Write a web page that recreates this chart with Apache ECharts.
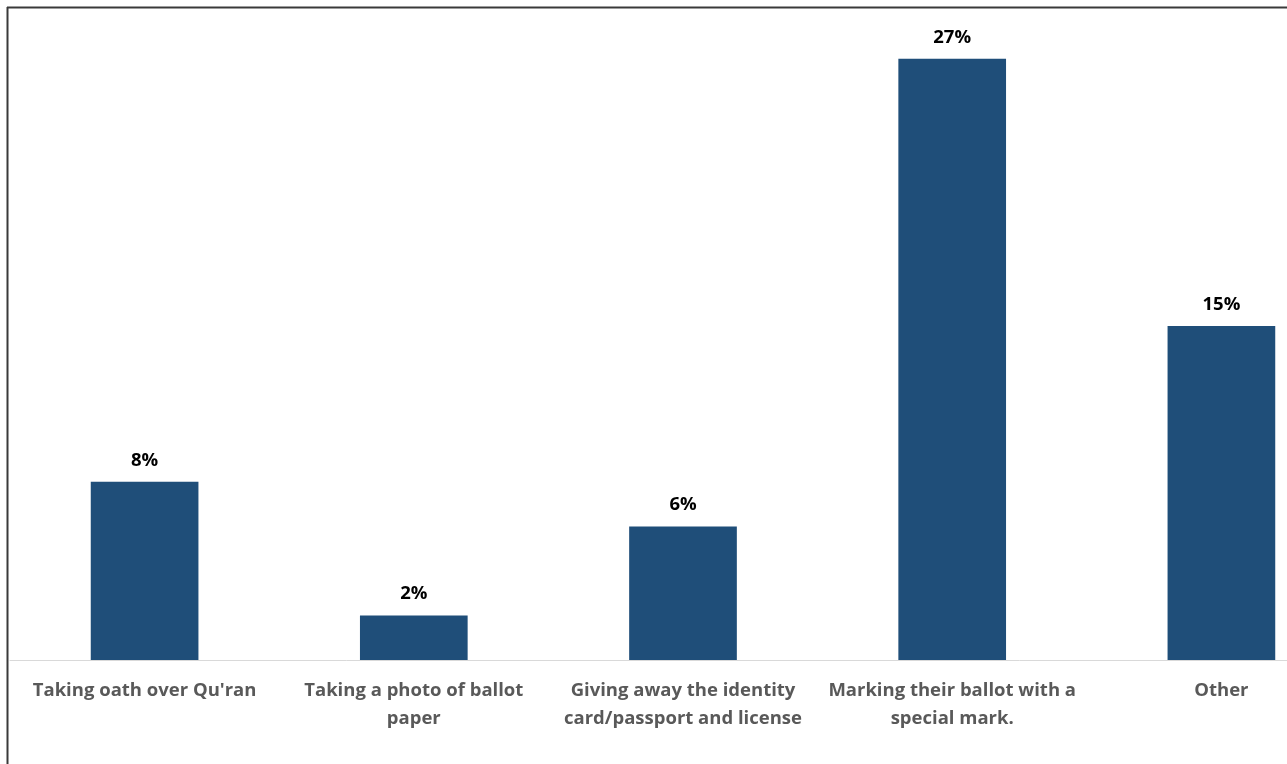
<!DOCTYPE html>
<html>
<head>
<meta charset="utf-8">
<script src="https://cdn.jsdelivr.net/npm/echarts@6/dist/echarts.min.js"></script>
<style>
html,body{margin:0;padding:0;background:#fff;overflow:hidden;width:1287px;height:764px;}
#c{position:absolute;left:0;top:-8px;width:1360px;height:772px;}
</style>
</head>
<body>
<div id="c"></div>
<script>
const categories = [
  "Taking oath over Qu'ran",
  "Taking a photo of ballot\npaper",
  "Giving away the identity\ncard/passport and license",
  "Marking their ballot with a\nspecial mark.",
  "Other"
];
const values = [8, 2, 6, 27, 15];

const FONT = 'Open Sans';
const chart = echarts.init(document.getElementById('c'), null, {renderer: 'canvas'});
chart.setOption({
  animation: false,
  backgroundColor: '#ffffff',
  grid: {left: 10, top: 0, width: 1346, height: 668, containLabel: false},
  xAxis: {
    type: 'category',
    data: categories,
    axisLine: {show: true, lineStyle: {color: '#d9d9d9', width: 1}},
    axisTick: {show: false},
    axisLabel: {
      interval: 0,
      margin: 17,
      color: '#595959',
      fontFamily: FONT,
      fontWeight: 'bold',
      fontSize: 18.5,
      lineHeight: 28
    }
  },
  yAxis: {
    type: 'value',
    min: 0,
    max: 30,
    show: false,
    splitLine: {show: false}
  },
  series: [{
    type: 'bar',
    data: values,
    barWidth: '40%',
    itemStyle: {color: '#1F4E79'},
    label: {
      show: true,
      position: 'top',
      distance: 12,
      formatter: p => p.value + '%',
      color: '#000000',
      fontFamily: FONT,
      fontWeight: 'bold',
      fontSize: 18.5
    }
  }],
  graphic: [
    {type: 'line', shape: {x1: 7, y1: 15.5, x2: 1360, y2: 15.5}, style: {stroke: '#3a3a3a', lineWidth: 2}},
    {type: 'line', shape: {x1: 7.5, y1: 15, x2: 7.5, y2: 772}, style: {stroke: '#3a3a3a', lineWidth: 2}}
  ]
});
</script>
</body>
</html>
